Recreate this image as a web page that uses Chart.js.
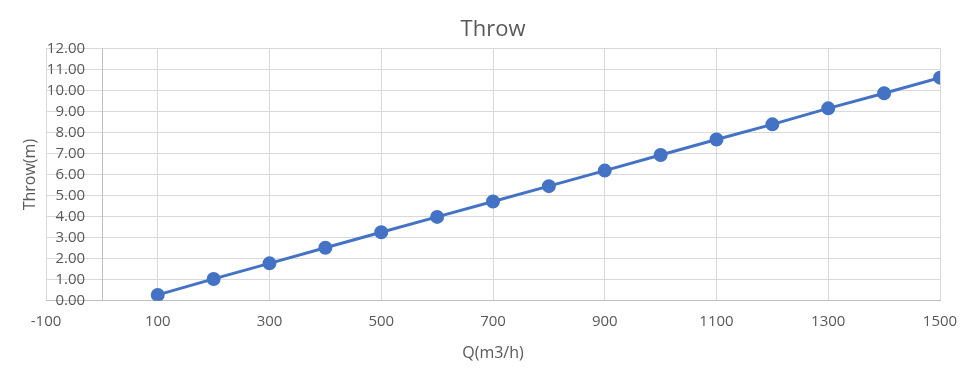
<!DOCTYPE html>
<html>
<head>
<meta charset="utf-8">
<script src="https://cdn.jsdelivr.net/npm/chart.js@4/dist/chart.umd.min.js"></script>
<style>
  html, body { margin: 0; padding: 0; background: #fff; }
  #wrap { width: 970px; height: 372px; }
</style>
</head>
<body>
<div id="wrap"><canvas id="chart"></canvas></div>
<script>
// data
const flowQ = [100, 200, 300, 400, 500, 600, 700, 800, 900, 1000, 1100, 1200, 1300, 1400, 1500];
const throwM = [0.28, 1.04, 1.78, 2.52, 3.26, 3.99, 4.72, 5.45, 6.19, 6.93, 7.67, 8.39, 9.15, 9.87, 10.61];
const xRange = [-100, 1500];
const yRange = [0, 12];

const textGrey = '#595959';
const gridGrey = '#d9d9d9';
const axisGrey = '#bfbfbf';
const blue = '#4472C4';
const fontName = '"Open Sans", sans-serif';

let points = flowQ.map((q, i) => ({ x: q, y: throwM[i] }));

// value axis crosses at Q = 0, labels sit just left of it
const yAxisLine = {
    id: 'yAxisLine',
    beforeDatasetsDraw(chart) {
        let ctx = chart.ctx;
        let area = chart.chartArea;
        let x0 = Math.round(chart.scales.x.getPixelForValue(0)) + 0.5;
        ctx.save();
        ctx.strokeStyle = axisGrey;
        ctx.lineWidth = 1;
        ctx.beginPath();
        ctx.moveTo(x0, area.top);
        ctx.lineTo(x0, area.bottom);
        ctx.stroke();
        ctx.restore();
    },
    afterDraw(chart) {
        let ctx = chart.ctx;
        let area = chart.chartArea;
        ctx.save();
        ctx.translate(30, (area.top + area.bottom) / 2);
        ctx.rotate(-Math.PI / 2);
        ctx.fillStyle = textGrey;
        ctx.font = '16px ' + fontName;
        ctx.textAlign = 'center';
        ctx.textBaseline = 'middle';
        ctx.fillText('Throw(m)', 0, 0);
        ctx.restore();
    }
};

new Chart(document.getElementById('chart').getContext('2d'), {
    type: 'scatter',
    data: {
        datasets: [{
            data: points,
            showLine: true,
            borderColor: blue,
            backgroundColor: blue,
            borderWidth: 3,
            pointRadius: 5.5,
            pointHoverRadius: 5.5
        }]
    },
    options: {
        responsive: true,
        maintainAspectRatio: false,
        animation: false,
        layout: { padding: { left: 46, right: 30, top: 0, bottom: 9 } },
        plugins: {
            legend: { display: false },
            tooltip: { enabled: false },
            title: {
                display: true,
                text: 'Throw',
                color: textGrey,
                font: { family: fontName, size: 22, weight: 'normal' },
                padding: { top: 17, bottom: 5 }
            }
        },
        scales: {
            x: {
                type: 'linear',
                min: xRange[0],
                max: xRange[1],
                ticks: {
                    stepSize: 200,
                    color: textGrey,
                    padding: 12,
                    font: { family: fontName, size: 15 },
                    callback: v => String(v)
                },
                grid: { color: gridGrey, drawTicks: false },
                border: { color: axisGrey },
                title: {
                    display: true,
                    text: 'Q(m3/h)',
                    color: textGrey,
                    font: { family: fontName, size: 16 },
                    padding: { top: 1, bottom: 0 }
                }
            },
            y: {
                type: 'linear',
                position: { x: -30 },
                min: yRange[0],
                max: yRange[1],
                ticks: {
                    stepSize: 1,
                    color: textGrey,
                    padding: 0,
                    font: { family: fontName, size: 15 },
                    callback: v => v.toFixed(2)
                },
                grid: { color: gridGrey, drawTicks: false },
                border: { display: false }
            }
        }
    },
    plugins: [yAxisLine]
});
</script>
</body>
</html>
